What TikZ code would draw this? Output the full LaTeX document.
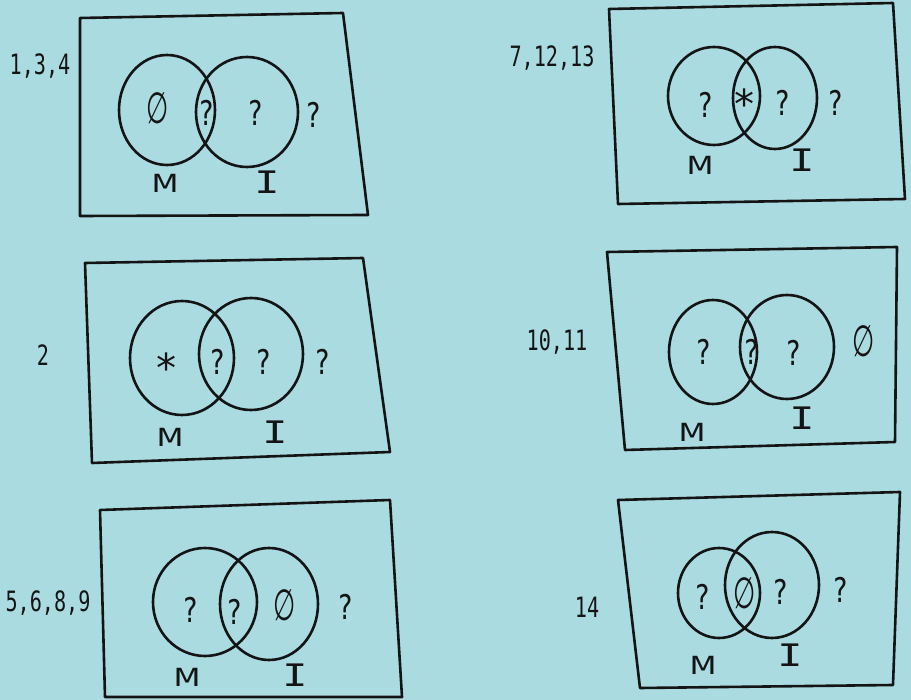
\documentclass[tikz,border=0pt]{standalone}
\usepackage{fontspec}
\usepackage{graphicx}
\setmonofont{DejaVu Sans Mono}
\newfontfamily\djv{DejaVu Sans}
\usetikzlibrary{shapes.geometric}
\definecolor{paper}{RGB}{170,219,225}
\definecolor{ink}{RGB}{20,20,20}
\newcommand{\nul}{\scalebox{0.85}[1.45]{∅}}
\newcommand{\nrow}[1]{\scalebox{0.72}[1]{#1}}
\newcommand{\bigM}{\scalebox{1.25}[1]{M}}
\newcommand{\bigI}{\scalebox{1.35}[1]{I}}
\newcommand{\qm}{\scalebox{0.78}[1]{?}}
\tikzset{
  frame/.style={draw=ink,line width=2.6pt,line join=round,line cap=round},
  setc/.style={ellipse,draw=ink,line width=2.6pt,inner sep=0pt},
  sym/.style={text=ink,font=\ttfamily\fontsize{34}{34}\selectfont,inner sep=0pt},
  nulsym/.style={text=ink,font=\djv\fontsize{30}{30}\selectfont,inner sep=0pt},
  starsym/.style={text=ink,font=\ttfamily\fontsize{40}{40}\selectfont,inner sep=0pt},
  labm/.style={text=ink,font=\djv\fontsize{25}{25}\selectfont,inner sep=0pt},
  labi/.style={text=ink,font=\ttfamily\fontsize{31}{31}\selectfont,inner sep=0pt},
  num/.style={text=ink,font=\ttfamily\fontsize{28}{28}\selectfont,inner sep=0pt}
}
\begin{document}
\begin{tikzpicture}[x=1pt,y=-1pt]
\useasboundingbox (0,0) rectangle (911,700);
\fill[paper] (0,0) rectangle (911,700);

% ---------- Panel 1: 1,3,4 ----------
\coordinate (a1) at (80,18); \coordinate (a2) at (343,13);
\coordinate (a3) at (368,215); \coordinate (a4) at (80,216);
\draw[frame] (a1) -- (a2) -- (a3) -- (a4) -- cycle;
\node[setc,minimum width=96pt,minimum height=110pt] (m1) at (167,110) {};
\node[setc,minimum width=102pt,minimum height=110pt] (i1) at (247,112) {};
\node[nulsym] (s11) at (158,108) {\nul};
\node[sym] (s12) at (206,113) {\qm};
\node[sym] (s13) at (255,113) {\qm};
\node[sym] (s14) at (313,115) {\qm};
\node[labm] (lm1) at (165,183) {\bigM};
\node[labi] (li1) at (267,182) {\bigI};
\node[num] (n1) at (40,66) {\nrow{1,3,4}};

% ---------- Panel 2: 7,12,13 ----------
\coordinate (b1) at (609,9); \coordinate (b2) at (893,3);
\coordinate (b3) at (905,199); \coordinate (b4) at (618,204);
\draw[frame] (b1) -- (b2) -- (b3) -- (b4) -- cycle;
\node[setc,minimum width=92pt,minimum height=98pt] (m2) at (714,96) {};
\node[setc,minimum width=84pt,minimum height=102pt] (i2) at (775,98) {};
\node[sym] (s21) at (705,105) {\qm};
\node[starsym] (s22) at (745,104) {*};
\node[sym] (s23) at (782,103) {\qm};
\node[sym] (s24) at (835,103) {\qm};
\node[labm] (lm2) at (700,165) {\bigM};
\node[labi] (li2) at (802,160) {\bigI};
\node[num] (n2) at (552,58) {\nrow{7,12,13}};

% ---------- Panel 3: 2 ----------
\coordinate (c1) at (85,263); \coordinate (c2) at (363,258);
\coordinate (c3) at (390,452); \coordinate (c4) at (92,463);
\draw[frame] (c1) -- (c2) -- (c3) -- (c4) -- cycle;
\node[setc,minimum width=104pt,minimum height=114pt] (m3) at (182,358) {};
\node[setc,minimum width=104pt,minimum height=112pt] (i3) at (251,354) {};
\node[starsym] (s31) at (167,368) {*};
\node[sym] (s32) at (217,362) {\qm};
\node[sym] (s33) at (263,362) {\qm};
\node[sym] (s34) at (322,362) {\qm};
\node[labm] (lm3) at (170,437) {\bigM};
\node[labi] (li3) at (275,432) {\bigI};
\node[num] (n3) at (43,355) {\nrow{2}};

% ---------- Panel 4: 10,11 ----------
\coordinate (d1) at (607,252); \coordinate (d2) at (897,247);
\coordinate (d3) at (895,442); \coordinate (d4) at (625,450);
\draw[frame] (d1) -- (d2) -- (d3) -- (d4) -- cycle;
\node[setc,minimum width=88pt,minimum height=104pt] (m4) at (713,352) {};
\node[setc,minimum width=94pt,minimum height=104pt] (i4) at (787,347) {};
\node[sym] (s41) at (703,352) {\qm};
\node[sym] (s42) at (751,352) {\qm};
\node[sym] (s43) at (793,353) {\qm};
\node[nulsym] (s44) at (864,341) {\nul};
\node[labm] (lm4) at (692,432) {\bigM};
\node[labi] (li4) at (802,418) {\bigI};
\node[num] (n4) at (557,342) {\nrow{10,11}};

% ---------- Panel 5: 5,6,8,9 ----------
\coordinate (e1) at (100,510); \coordinate (e2) at (390,500);
\coordinate (e3) at (402,697); \coordinate (e4) at (105,697);
\draw[frame] (e1) -- (e2) -- (e3) -- (e4) -- cycle;
\node[setc,minimum width=104pt,minimum height=108pt] (m5) at (205,602) {};
\node[setc,minimum width=98pt,minimum height=112pt] (i5) at (269,604) {};
\node[sym] (s51) at (190,610) {\qm};
\node[sym] (s52) at (234,612) {\qm};
\node[nulsym] (s53) at (285,605) {\nul};
\node[sym] (s54) at (345,607) {\qm};
\node[labm] (lm5) at (187,677) {\bigM};
\node[labi] (li5) at (295,675) {\bigI};
\node[num] (n5) at (48,603) {\nrow{5,6,8,9}};

% ---------- Panel 6: 14 ----------
\coordinate (f1) at (618,500); \coordinate (f2) at (900,492);
\coordinate (f3) at (893,685); \coordinate (f4) at (640,688);
\draw[frame] (f1) -- (f2) -- (f3) -- (f4) -- cycle;
\node[setc,minimum width=82pt,minimum height=90pt] (m6) at (719,593) {};
\node[setc,minimum width=94pt,minimum height=106pt] (i6) at (772,585) {};
\node[sym] (s61) at (702,597) {\qm};
\node[nulsym] (s62) at (745,593) {\nul};
\node[sym] (s63) at (780,592) {\qm};
\node[sym] (s64) at (840,590) {\qm};
\node[labm] (lm6) at (703,665) {\bigM};
\node[labi] (li6) at (790,655) {\bigI};
\node[num] (n6) at (587,607) {\nrow{14}};
\end{tikzpicture}
\end{document}
